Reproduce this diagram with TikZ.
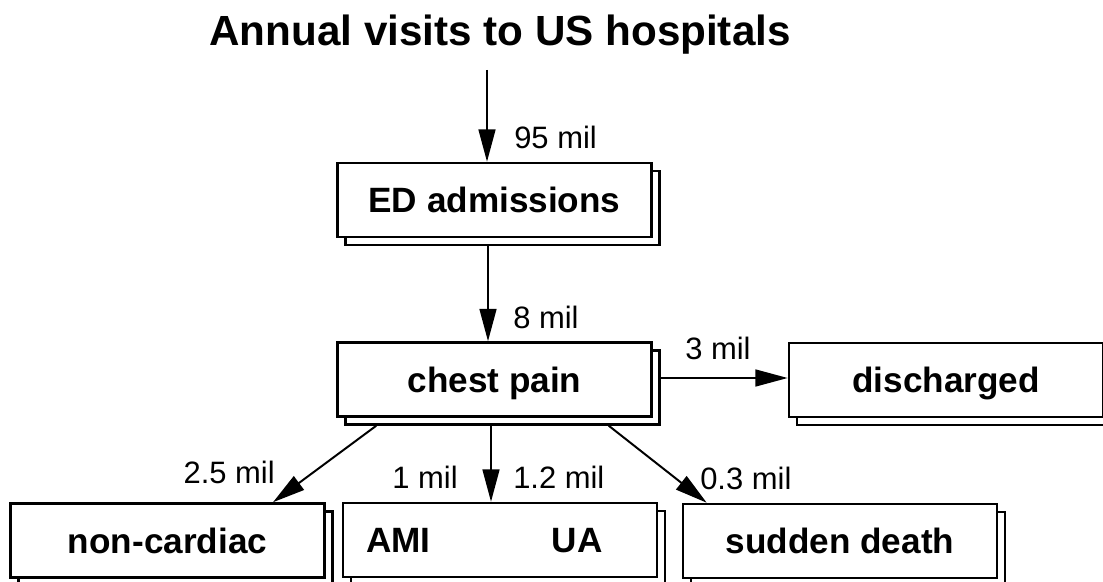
\documentclass[tikz,border=0pt]{standalone}
\usepackage{fontspec}
\setmainfont{Liberation Sans}
\usepackage{tikz}
\usetikzlibrary{arrows.meta,shadows}

\begin{document}
\begin{tikzpicture}[x=0.025cm,y=-0.025cm,
	boxtext/.style={inner sep=0pt,text height=18pt,text depth=0pt,font=\fontsize{25}{30}\selectfont\bfseries},
	box/.style={boxtext,draw,line width=1.8pt,fill=white,minimum width=7.85cm,minimum height=1.85cm,
		copy shadow={shadow xshift=0.2cm,shadow yshift=-0.2cm,draw,fill=white,line width=1.8pt}},
	lbl/.style={inner sep=0pt,text height=15.8pt,text depth=0pt,font=\fontsize{22}{26}\selectfont},
	flow/.style={-{Triangle[length=23pt,width=12pt]},line width=1.4pt}]
	\clip (0,0) rectangle (1103,582);
	\node[inner sep=0pt,anchor=base,font=\fontsize{30}{36}\selectfont\bfseries] (title) at (500,46) {Annual visits to US hospitals};
	\coordinate (in) at (487,70);
	\node[box] (ed) at (494.5,200) {ED admissions};
	\node[box] (chest) at (494.5,379.5) {chest pain};
	\node[box] (dis) at (946,380) {discharged};
	\node[box] (nonc) at (167.5,540.5) {non-cardiac};
	\node[box] (card) at (500,540) {};
	\node[boxtext] (ami) at (398.5,540) {AMI};
	\node[boxtext] (ua) at (577,540) {UA};
	\node[box] (death) at (840,541) {sudden death};

	\node[lbl,anchor=west] (l95) at (514,137) {95 mil};
	\node[lbl,anchor=west] (l8) at (513,317) {8 mil};
	\node[lbl,anchor=west] (l3) at (685,348) {3 mil};
	\node[lbl,anchor=east] (l25) at (275,472) {2.5 mil};
	\node[lbl,anchor=east] (l1) at (458,477) {1 mil};
	\node[lbl,anchor=west] (l12) at (513,477) {1.2 mil};
	\node[lbl,anchor=west] (l03) at (700,478) {0.3 mil};

\draw[flow] (in) -- (in |- ed.north);
\draw[flow] ([shift={(-6.5,8)}]ed.south) -- ([shift={(-6.5,0)}]chest.north);
\draw[flow] ([shift={(8,-1.5)}]chest.east) -- ([shift={(0,-2)}]dis.west);
\draw[flow] ([shift={(40,8)}]chest.south west) -- ([shift={(105.5,0)}]nonc.north);
\draw[flow] ([shift={(-3.5,8)}]chest.south) -- ([shift={(-9,0)}]card.north);
\draw[flow] ([shift={(-44,8)}]chest.south east) -- ([shift={(25,0)}]death.north west);
\end{tikzpicture}
\end{document}
